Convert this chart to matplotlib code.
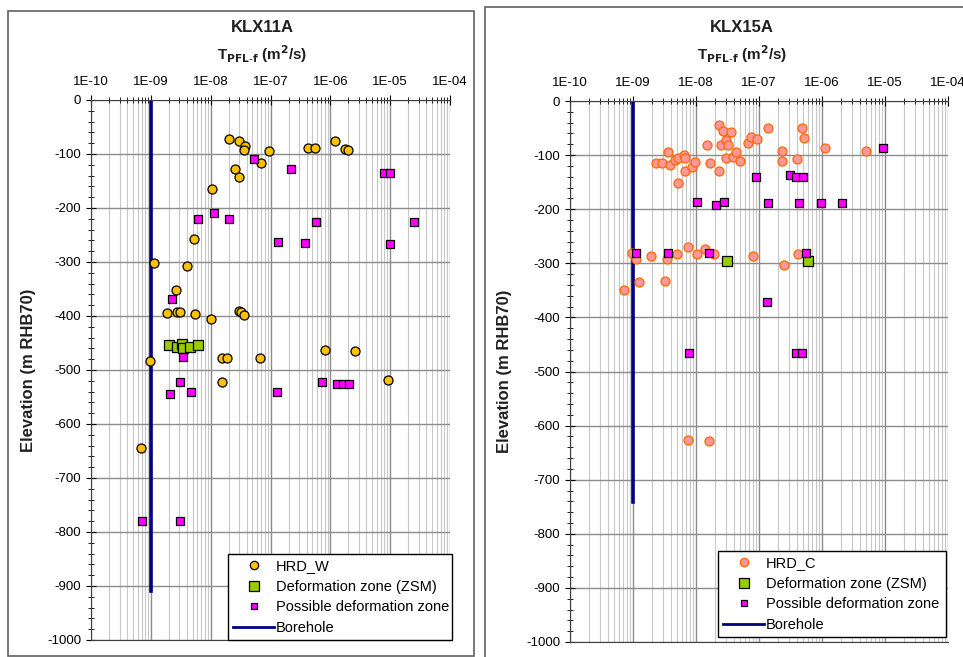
import numpy as np
import matplotlib
matplotlib.use("Agg")
import matplotlib.pyplot as plt
from matplotlib.patches import Rectangle
from matplotlib.ticker import LogLocator, FuncFormatter, MultipleLocator
from matplotlib.lines import Line2D

plt.rcParams["font.family"] = ["Liberation Sans", "DejaVu Sans"]
plt.rcParams["axes.unicode_minus"] = False

# ---- KLX11A ----  (log10 T, elevation)
hrd_w_logT = [-7.70, -7.53, -7.42, -7.45, -7.02, -7.16, -7.59, -7.52, -6.38, -6.25,
              -5.93, -5.75, -5.71, -7.98, -8.28, -8.94, -8.39, -8.58, -8.73, -8.57,
              -8.51, -8.26, -7.99, -7.53, -7.50, -7.45, -9.02, -9.17, -7.81, -7.73,
              -7.18, -7.81, -6.09, -5.58, -5.04]
hrd_w_elev = [-73, -75, -86, -93, -94, -117, -128, -142, -88, -88,
              -75, -91, -93, -164, -258, -301, -307, -352, -395, -393,
              -393, -396, -406, -390, -392, -399, -483, -645, -477, -478,
              -478, -522, -463, -465, -518]

zsm11_logT = [-8.70, -8.57, -8.48, -8.46, -8.35, -8.22]
zsm11_elev = [-454, -457, -451, -460, -457, -454]

pdz11_logT = [-7.27, -6.66, -5.11, -5.01, -8.21, -7.95, -7.70, -6.24, -4.60, -6.87,
              -6.43, -5.01, -8.65, -8.47, -8.51, -8.68, -8.33, -6.89, -6.14, -5.89,
              -5.78, -5.69, -9.14, -8.52]
pdz11_elev = [-109, -128, -135, -135, -221, -209, -221, -225, -225, -263,
              -265, -267, -369, -475, -523, -544, -541, -540, -523, -526,
              -525, -526, -780, -780]

bh11_T = [1e-9, 1e-9]
bh11_elev = [0, -910]

# ---- KLX15A ----
hrd_c_logT = [-8.64, -8.54, -8.44, -8.42, -8.33, -8.28, -8.19, -8.18, -8.17, -8.06,
              -8.02, -8.29, -7.82, -7.77, -7.64, -7.63, -7.57, -7.61, -7.53, -7.50,
              -7.45, -7.52, -7.42, -7.36, -7.30, -7.17, -7.12, -7.03, -6.86, -6.64,
              -6.63, -6.40, -6.31, -6.28, -5.95, -5.30,
              -9.02, -8.96, -8.71, -8.46, -8.30, -8.13, -7.99, -7.86, -7.72, -7.09,
              -6.60, -6.38, -9.14, -8.91, -8.50, -8.13, -7.80]
hrd_c_elev = [-115, -115, -95, -118, -109, -106, -100, -106, -129, -122,
              -113, -152, -81, -114, -129, -45, -55, -81, -72, -81,
              -57, -106, -103, -95, -111, -78, -67, -71, -49, -92,
              -111, -107, -49, -69, -86, -92,
              -281, -292, -286, -292, -283, -270, -283, -273, -283, -287,
              -303, -283, -349, -335, -333, -627, -628]

zsm15_logT = [-7.51, -6.23]
zsm15_elev = [-295, -295]

pdz15_logT = [-5.03, -7.05, -6.51, -6.41, -6.30, -7.98, -7.69, -7.55, -6.86, -6.36,
              -6.02, -5.69, -8.95, -8.44, -7.80, -6.26, -6.88, -8.11, -6.42, -6.32]
pdz15_elev = [-86, -140, -137, -140, -140, -187, -192, -187, -189, -189,
              -189, -189, -281, -281, -281, -281, -371, -466, -466, -466]

bh15_T = [1e-9, 1e-9]
bh15_elev = [0, -742]

W, H = 963, 657
fig = plt.figure(figsize=(W / 100, H / 100), dpi=100)

# outer chart frames
fig.patches.append(Rectangle((8 / W, 1 - 656 / H), 466 / W, 645 / H, transform=fig.transFigure,
                             fill=False, edgecolor="#606060", lw=1.2))
fig.patches.append(Rectangle((485 / W, -0.05), 500 / W, 1 - 7 / H + 0.05, transform=fig.transFigure,
                             fill=False, edgecolor="#606060", lw=1.2))


def tick_fmt(v, pos):
    e = int(round(np.log10(v)))
    return "1E-%02d" % abs(e) if e < 0 else "1E+%02d" % e


def make_panel(rect, title, title_x, hrd_label, hrd_logT, hrd_elev, hrd_face, hrd_edge,
               zsm_logT, zsm_elev, pdz_logT, pdz_elev, bh_T, bh_elev, legend_bbox, legend_w, ylab_x):
    ax = fig.add_axes(rect)
    ax.set_xscale("log")
    ax.set_xlim(1e-10, 1e-4)
    ax.set_ylim(-1000, 0)

    ax.xaxis.set_major_locator(LogLocator(base=10, numticks=10))
    ax.xaxis.set_minor_locator(LogLocator(base=10, subs=np.arange(2, 10), numticks=20))
    ax.xaxis.set_major_formatter(FuncFormatter(tick_fmt))
    ax.xaxis.tick_top()
    ax.yaxis.set_major_locator(MultipleLocator(100))
    ax.yaxis.set_minor_locator(MultipleLocator(20))

    ax.grid(True, which="major", color="#8c8c8c", lw=1.0)
    ax.grid(True, which="minor", axis="x", color="#c8c8c8", lw=0.8)
    ax.set_axisbelow(True)

    ax.tick_params(axis="x", which="both", direction="inout", top=True, bottom=False,
                   labelsize=9.5, pad=5)
    ax.tick_params(axis="x", which="major", length=7)
    ax.tick_params(axis="x", which="minor", length=4)
    ax.tick_params(axis="y", which="major", direction="inout", length=7, labelsize=9.5)
    ax.tick_params(axis="y", which="minor", direction="inout", length=4)

    ax.spines["right"].set_visible(False)
    for s in ["top", "left", "bottom"]:
        ax.spines[s].set_color("#404040")

    ax.plot(bh_T, bh_elev, color="#000080", lw=2.6, label="Borehole", zorder=2)
    ax.scatter(10 ** np.array(hrd_logT), hrd_elev, s=42, marker="o", facecolor=hrd_face,
               edgecolor=hrd_edge, lw=0.9, zorder=3)
    ax.scatter(10 ** np.array(zsm_logT), zsm_elev, s=62, marker="s", facecolor="#99CC00",
               edgecolor="black", lw=0.9, zorder=4)
    ax.scatter(10 ** np.array(pdz_logT), pdz_elev, s=26, marker="s", facecolor="#FF00FF",
               edgecolor="black", lw=0.9, zorder=5)

    handles = [
        Line2D([], [], ls="none", marker="o", ms=6, mfc=hrd_face, mec=hrd_edge, mew=0.9),
        Line2D([], [], ls="none", marker="s", ms=7, mfc="#99CC00", mec="black", mew=0.9),
        Line2D([], [], ls="none", marker="s", ms=4, mfc="#FF00FF", mec="black", mew=0.9),
        Line2D([], [], color="#000080", lw=2),
    ]
    labels = [hrd_label, "Deformation zone (ZSM)", "Possible deformation zone", "Borehole"]
    leg = ax.legend(handles, labels, loc="lower left",
                    bbox_to_anchor=(legend_bbox[0], legend_bbox[1], legend_w, 0.1),
                    bbox_transform=fig.transFigure, mode="expand", frameon=True, fancybox=False,
                    edgecolor="black", framealpha=1, fontsize=10.5, handlelength=2.8,
                    handletextpad=0.15, labelspacing=0.45, borderpad=0.35, borderaxespad=0)
    leg.get_frame().set_linewidth(1.0)

    fig.text(title_x, 1 - 28 / H, title, ha="center", va="center", fontsize=12, fontweight="bold",
             color="#202020")
    fig.text(title_x, 1 - 54 / H, r"T$_{\mathbf{PFL\text{-}f}}$ (m$^{\mathbf{2}}$/s)", ha="center",
             va="center", fontsize=11, fontweight="bold", color="#202020")
    fig.text(ylab_x, rect[1] + rect[3] / 2, "Elevation (m RHB70)", rotation=90, ha="center",
             va="center", fontsize=12, fontweight="bold", color="#202020")
    return ax


make_panel([91 / W, 17 / H, 359 / W, 540 / H], "KLX11A", 262 / W, "HRD_W",
           hrd_w_logT, hrd_w_elev, "#FFC000", "black",
           zsm11_logT, zsm11_elev, pdz11_logT, pdz11_elev, bh11_T, bh11_elev,
           (228 / W, 1 - 640 / H), 224 / W, 28 / W)

make_panel([570 / W, 15 / H, 378 / W, 541 / H], "KLX15A", 742 / W, "HRD_C",
           hrd_c_logT, hrd_c_elev, "#FF9999", "#FF6600",
           zsm15_logT, zsm15_elev, pdz15_logT, pdz15_elev, bh15_T, bh15_elev,
           (718 / W, 1 - 637 / H), 228 / W, 505 / W)

fig.savefig("out.png", dpi=100)
